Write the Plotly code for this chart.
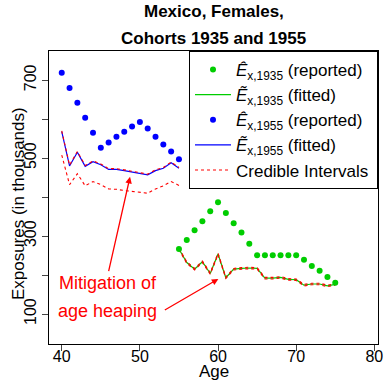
import plotly.graph_objects as go

# ---- data ----
ages_1935 = list(range(55, 76))
reported_1935 = [267, 290, 315, 338, 364, 387, 359, 333, 309, 280, 251, 251, 251, 251, 251, 251,
                 239, 223, 211, 195, 180]
fitted_1935 = [267, 232, 215, 234, 204, 254, 193, 215, 217, 218, 217, 192, 192, 194, 189, 188,
               174, 177, 177, 172, 176]
ci_low_1935 = [265, 230, 213, 232, 202, 252, 191, 213, 215, 216, 215, 190, 190, 192, 187, 186,
               172, 175, 175, 170, 174]
ci_high_1935 = [269, 234, 217, 236, 206, 256, 195, 217, 219, 220, 219, 194, 194, 196, 191, 190,
                176, 179, 179, 174, 178]

ages_1955 = list(range(40, 56))
reported_1955 = [719, 680, 642, 604, 565, 527, 540, 555, 568, 581, 593, 576, 555, 535, 517, 497]
fitted_1955 = [568, 480, 515, 479, 491, 483, 471, 471, 468, 464, 461, 457, 468, 474, 488, 474]
ci_low_1955 = [508, 432, 460, 429, 440, 432, 421, 420, 417, 415, 413, 410, 421, 429, 440, 430]
ci_high_1955 = [570, 482, 517, 481, 493, 485, 473, 473, 470, 466, 463, 459, 470, 476, 490, 476]

x_ticks = [40, 50, 60, 70, 80]
y_ticks = [100, 200, 300, 400, 500, 600, 700]
y_ticktext = ["100", "", "300", "", "500", "", "700"]

title_lines = ["Mexico, Females,", "Cohorts 1935 and 1955"]
x_title = "Age"
y_title = "Exposures (in thousands)"

FONT = "Liberation Sans, Arial, Helvetica, sans-serif"
GREEN = "#00CD00"
BLUE = "#0000FF"
RED = "#FF0000"

fig = go.Figure()

# fitted lines
fig.add_trace(go.Scatter(x=ages_1935, y=fitted_1935, mode="lines",
                         line=dict(color=GREEN, width=1.2),
                         name="<i>Ẽ</i><sub>x,1935</sub> (fitted)", legendrank=2))
fig.add_trace(go.Scatter(x=ages_1955, y=fitted_1955, mode="lines",
                         line=dict(color=BLUE, width=1.2),
                         name="<i>Ẽ</i><sub>x,1955</sub> (fitted)", legendrank=4))
# credible intervals
fig.add_trace(go.Scatter(x=ages_1935, y=ci_low_1935, mode="lines",
                         line=dict(color=RED, width=1.1, dash="dot"),
                         name="Credible Intervals", legendrank=5))
for xs, ys in [(ages_1935, ci_high_1935), (ages_1955, ci_low_1955), (ages_1955, ci_high_1955)]:
    fig.add_trace(go.Scatter(x=xs, y=ys, mode="lines",
                             line=dict(color=RED, width=1.1, dash="dot"),
                             showlegend=False))
# reported points
fig.add_trace(go.Scatter(x=ages_1935, y=reported_1935, mode="markers",
                         marker=dict(color=GREEN, size=6),
                         name="<i>Ê</i><sub>x,1935</sub> (reported)\u00a0\u00a0", legendrank=1))
fig.add_trace(go.Scatter(x=ages_1955, y=reported_1955, mode="markers",
                         marker=dict(color=BLUE, size=6),
                         name="<i>Ê</i><sub>x,1955</sub> (reported)", legendrank=3))

# title (two lines)
fig.add_annotation(xref="paper", yref="paper", x=0.5, y=1.135, yanchor="middle",
                   text="<b>%s</b>" % title_lines[0], showarrow=False,
                   font=dict(family=FONT, size=17, color="black"))
fig.add_annotation(xref="paper", yref="paper", x=0.5, y=1.044, yanchor="middle",
                   text="<b>%s</b>" % title_lines[1], showarrow=False,
                   font=dict(family=FONT, size=17, color="black"))
# axis titles
fig.add_annotation(xref="paper", yref="paper", x=0.5, y=-0.094, yanchor="middle",
                   text=x_title, showarrow=False, font=dict(family=FONT, size=17, color="black"))
fig.add_annotation(xref="paper", yref="paper", x=-0.092, y=0.48, xanchor="center",
                   yanchor="middle", textangle=-90,
                   text=y_title, showarrow=False, font=dict(family=FONT, size=17, color="black"))

# annotation text & arrows
fig.add_annotation(x=45.9, y=180, text="Mitigation of", showarrow=False,
                   font=dict(family=FONT, size=18, color=RED))
fig.add_annotation(x=45.9, y=108, text="age heaping", showarrow=False,
                   font=dict(family=FONT, size=18, color=RED))
fig.add_annotation(x=48.74, y=452, ax=45.96, ay=206, axref="x", ayref="y", text="",
                   showarrow=True, arrowhead=2, arrowsize=1, arrowwidth=1.3, arrowcolor=RED)
fig.add_annotation(x=60.04, y=190, ax=53.0, ay=108, axref="x", ayref="y", text="",
                   showarrow=True, arrowhead=2, arrowsize=1, arrowwidth=1.3, arrowcolor=RED)

fig.update_layout(
    width=384, height=383,
    margin=dict(l=49, r=6, t=51, b=39, autoexpand=False),
    paper_bgcolor="white", plot_bgcolor="white",
    font=dict(family=FONT, size=16, color="black"),
    showlegend=True,
    legend=dict(x=1, xanchor="right", y=1, yanchor="top",
                bgcolor="white", bordercolor="black", borderwidth=1,
                font=dict(family=FONT, size=17, color="black"),
                tracegroupgap=0, itemwidth=36),
    xaxis=dict(range=[38.37, 80.47], tickvals=x_ticks, ticks="outside", ticklen=6,
               ticklabelstandoff=-8,
               showgrid=False, zeroline=False, showline=True, linecolor="black",
               linewidth=1, mirror=True, automargin=False,
               tickfont=dict(size=16)),
    yaxis=dict(range=[23, 775], tickvals=y_ticks, ticktext=y_ticktext, ticks="outside",
               ticklen=6, tickangle=-90, showgrid=False, zeroline=False, showline=True,
               linecolor="black", linewidth=1, mirror=True, automargin=False,
               tickfont=dict(size=16)),
)

fig.write_html("out.html")
